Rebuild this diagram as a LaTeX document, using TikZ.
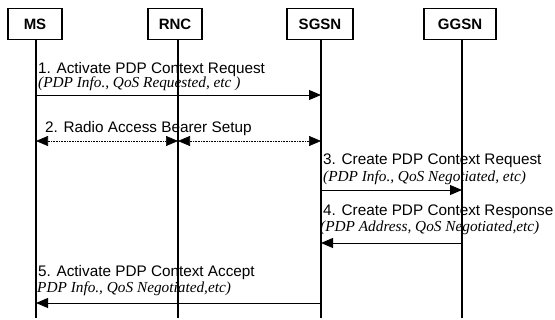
\documentclass[tikz,border=0pt]{standalone}
\usepackage{fontspec}
\setmainfont{Liberation Sans}
\newfontfamily\paramfont{Liberation Serif}
\usetikzlibrary{arrows.meta}
\tikzset{
  entity/.style={draw, line width=1.4pt, minimum height=31pt, inner sep=0pt,
    font=\fontsize{15}{17}\selectfont\bfseries},
  lifeline/.style={line width=1.3pt},
  msg/.style={line width=0.9pt, -{Triangle[length=12pt,width=10pt]}},
  bearer/.style={line width=0.6pt, densely dotted, {Triangle[length=12pt,width=10pt]}-{Triangle[length=12pt,width=10pt]}},
  title/.style={anchor=base west, inner sep=0pt, font=\fontsize{15.3}{17}\selectfont},
  param/.style={anchor=base west, inner sep=0pt, font=\fontsize{15.3}{17}\paramfont\itshape}
}
\begin{document}
\begin{tikzpicture}[x=1pt,y=-1pt]
\useasboundingbox (0,0) rectangle (555,320);

% entities
\node[entity, minimum width=54pt] (ms)   at (35,24)  {MS};
\node[entity, minimum width=54pt] (rnc)  at (175,24) {RNC};
\node[entity, minimum width=66pt] (sgsn) at (320,24) {SGSN};
\node[entity, minimum width=72pt] (ggsn) at (460,24) {GGSN};

% lifeline ends
\coordinate (msE)   at (36,318);
\coordinate (rncE)  at (178,318);
\coordinate (sgsnE) at (321,318);
\coordinate (ggsnE) at (462,318);
\draw[lifeline] (ms.south -| msE) -- (msE);
\draw[lifeline] (rnc.south -| rncE) -- (rncE);
\draw[lifeline] (sgsn.south -| sgsnE) -- (sgsnE);
\draw[lifeline] (ggsn.south -| ggsnE) -- (ggsnE);

% message anchor points
\coordinate (m1a) at (36,95);   \coordinate (m1b) at (321,95);
\coordinate (m2a) at (36,141);  \coordinate (m2b) at (178,141); \coordinate (m2c) at (321,141);
\coordinate (m3a) at (321,190); \coordinate (m3b) at (462,190);
\coordinate (m4a) at (462,243); \coordinate (m4b) at (321,243);
\coordinate (m5a) at (321,303); \coordinate (m5b) at (36,303);

% 1. activate request
\node[title] (t1) at (38,74) {1. Activate PDP Context Request};
\node[param] (p1) at (38,88) {(PDP Info., QoS Requested, etc )};
\draw[msg] (m1a) -- (m1b);

% 2. radio access bearer setup
\node[title] (t2) at (45,133) {2. Radio Access Bearer Setup};
\draw[bearer] (m2a) -- (m2b);
\draw[bearer] (m2b) -- (m2c);

% 3. create request
\node[title] (t3) at (323,165) {3. Create PDP Context Request};
\node[param] (p3) at (323,182) {(PDP Info., QoS Negotiated, etc)};
\draw[msg] (m3a) -- (m3b);

% 4. create response
\node[title] (t4) at (323,216) {4. Create PDP Context Response};
\node[param] (p4) at (320,232) {(PDP Address, QoS Negotiated,etc)};
\draw[msg] (m4a) -- (m4b);

% 5. activate accept
\node[title] (t5) at (38,277) {5. Activate PDP Context Accept};
\node[param] (p5) at (37,293) {PDP Info., QoS Negotiated,etc)};
\draw[msg] (m5a) -- (m5b);
\end{tikzpicture}
\end{document}
